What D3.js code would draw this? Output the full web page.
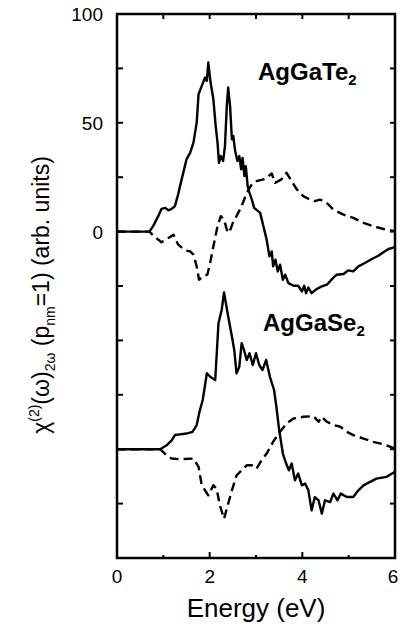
<!DOCTYPE html>
<html>
<head>
<meta charset="utf-8">
<script src="https://cdn.jsdelivr.net/npm/d3@7"></script>
<style>
  body { margin: 0; background: #fff; }
  svg { display: block; }
  text { font-family: "Liberation Sans", Arial, Helvetica, sans-serif; fill: #000; }
</style>
</head>
<body>
<svg id="chart" width="400" height="626"></svg>
<script>
// AgGaTe2 (upper panel, baseline 0)
const teSolidE = [0, 0.70, 0.78, 0.89, 0.96, 1.04, 1.11, 1.18, 1.25, 1.32, 1.36, 1.43, 1.50, 1.58, 1.65, 1.72, 1.76, 1.83, 1.90, 1.94, 1.97, 2.02, 2.08, 2.13, 2.17, 2.20, 2.24, 2.29, 2.33, 2.37, 2.40, 2.44, 2.48, 2.51, 2.55, 2.60, 2.64, 2.68, 2.71, 2.75, 2.78, 2.82, 2.86, 2.91, 2.96, 3.09, 3.16, 3.23, 3.29, 3.34, 3.37, 3.42, 3.47, 3.52, 3.58, 3.63, 3.70, 3.81, 3.91, 3.99, 4.04, 4.08, 4.13, 4.20, 4.31, 4.42, 4.53, 4.63, 4.74, 4.89, 4.99, 5.10, 5.21, 5.35, 5.50, 5.64, 5.75, 5.86, 6.0]
const teSolidV = [0, 0, 2.5, 7.1, 10.4, 10.9, 9.8, 10.4, 11.7, 17.1, 20.9, 27.0, 33.2, 36.3, 40.9, 50.1, 63.1, 67.0, 70.8, 69.3, 77.7, 68.5, 60.8, 48.5, 40.9, 31.6, 34.7, 32.4, 39.3, 57.8, 66.2, 57.8, 42.4, 43.9, 37.0, 32.4, 34.7, 28.6, 33.9, 25.5, 30.1, 20.9, 17.8, 14.7, 10.9, 8.6, 2.5, -3.7, -11.4, -9.1, -16.0, -12.9, -18.3, -15.2, -22.1, -19.8, -23.7, -24.9, -24.9, -27.5, -24.9, -28.3, -25.7, -28.3, -26.4, -25.2, -24.4, -22.1, -19.8, -19.5, -17.8, -18.3, -16.0, -14.4, -12.6, -11.1, -9.5, -8.0, -7.1]
const teDashE = [0, 0.70, 0.82, 0.96, 1.11, 1.22, 1.32, 1.47, 1.58, 1.65, 1.72, 1.77, 1.86, 1.95, 2.01, 2.08, 2.17, 2.24, 2.31, 2.37, 2.42, 2.50, 2.58, 2.69, 2.80, 2.91, 3.01, 3.16, 3.27, 3.34, 3.41, 3.55, 3.66, 3.77, 3.88, 4.02, 4.17, 4.27, 4.38, 4.49, 4.67, 4.89, 5.10, 5.32, 5.53, 5.75, 6.0]
const teDashV = [0, 0, -2.5, -4.9, -2.9, -1.4, -6.0, -8.6, -9.1, -10.6, -16.0, -22.1, -20.6, -19.8, -14.4, -6.8, 2.5, 7.1, 5.5, 0.9, -0.6, 4.0, 7.1, 11.7, 17.8, 21.7, 23.2, 24.0, 25.5, 26.7, 22.4, 24.0, 27.0, 23.2, 19.4, 16.3, 14.7, 14.0, 14.7, 14.0, 10.1, 7.8, 6.3, 4.0, 2.5, 1.2, 0.2]

// AgGaSe2 (lower panel, drawn shifted by seOffset)
const seOffset = -100
const seSolidE = [0, 0.93, 1.07, 1.18, 1.25, 1.36, 1.50, 1.63, 1.72, 1.78, 1.85, 1.94, 2.01, 2.12, 2.19, 2.26, 2.31, 2.40, 2.48, 2.53, 2.58, 2.64, 2.69, 2.74, 2.80, 2.86, 2.93, 3.00, 3.07, 3.14, 3.22, 3.30, 3.39, 3.44, 3.50, 3.58, 3.65, 3.71, 3.77, 3.84, 3.91, 3.99, 4.06, 4.13, 4.20, 4.27, 4.35, 4.42, 4.49, 4.60, 4.67, 4.76, 4.83, 4.96, 5.10, 5.21, 5.32, 5.42, 5.60, 5.82, 6.0]
const seSolidV = [0, 0, 1.8, 4.1, 6.5, 6.8, 7.2, 8.0, 11.1, 17.2, 22.6, 34.9, 33.3, 31.8, 57.9, 64.1, 72.0, 61.0, 51.8, 45.6, 34.9, 37.9, 48.7, 45.6, 41.0, 44.1, 38.7, 44.1, 38.7, 36.4, 41.0, 33.3, 27.2, 19.5, 8.8, -2.0, -6.6, -9.7, -6.6, -14.3, -11.2, -16.6, -15.8, -18.9, -28.1, -22.0, -23.5, -29.6, -23.5, -24.3, -20.4, -23.5, -20.4, -22.0, -22.0, -18.9, -16.6, -15.5, -13.5, -12.7, -10.4]
const seDashE = [0, 0.93, 1.07, 1.18, 1.36, 1.65, 1.76, 1.83, 1.97, 2.08, 2.15, 2.22, 2.31, 2.40, 2.48, 2.58, 2.69, 2.80, 2.91, 3.01, 3.12, 3.23, 3.37, 3.52, 3.66, 3.81, 4.02, 4.24, 4.35, 4.42, 4.53, 4.67, 4.82, 4.96, 5.10, 5.32, 5.53, 5.75, 6.0]
const seDashV = [0, 0, -2.8, -4.3, -4.6, -4.3, -8.1, -16.6, -21.2, -16.6, -18.1, -25.8, -32.0, -25.0, -18.9, -12.0, -9.7, -7.4, -7.4, -8.9, -5.1, -2.0, 3.4, 8.0, 11.8, 14.1, 14.9, 15.2, 12.6, 14.9, 12.6, 11.1, 10.3, 8.0, 6.5, 4.9, 3.4, 2.3, 0.3]

const xTicks = [0, 1, 2, 3, 4, 5, 6]
const xTickLabels = [0, 2, 4, 6]
const yTicks = d3.range(-150, 101, 25)
const yTickLabels = [0, 50, 100]

const svg = d3.select('#chart')
const m = { left: 117, right: 395, top: 14, bottom: 558 }

const x = d3.scaleLinear().domain([0, 6]).range([m.left, m.right])
const y = d3.scaleLinear().domain([-150, 100]).range([m.bottom, m.top])

svg.append('clipPath').attr('id', 'plot-clip')
  .append('rect')
  .attr('x', m.left).attr('y', m.top)
  .attr('width', m.right - m.left).attr('height', m.bottom - m.top)

const series = [
  { e: teSolidE, v: teSolidV, off: 0, dash: null },
  { e: teDashE, v: teDashV, off: 0, dash: '9,5' },
  { e: seSolidE, v: seSolidV, off: seOffset, dash: null },
  { e: seDashE, v: seDashV, off: seOffset, dash: '9,5' }
]

const line = d3.line()
  .x(d => x(d[0]))
  .y(d => y(d[1]))

const plot = svg.append('g').attr('clip-path', 'url(#plot-clip)')
series.forEach(s => {
  const pts = s.e.map((e, i) => [e, s.v[i] + s.off])
  plot.append('path')
    .datum(pts)
    .attr('d', line)
    .attr('fill', 'none')
    .attr('stroke', '#000')
    .attr('stroke-width', 2.4)
    .attr('stroke-linejoin', 'round')
    .attr('stroke-dasharray', s.dash)
})

// ticks (pointing inwards on all four sides)
const ticks = svg.append('g').attr('stroke', '#000').attr('stroke-width', 2)
xTicks.forEach(t => {
  const len = t % 2 === 0 ? 6 : 3
  ticks.append('line').attr('x1', x(t)).attr('x2', x(t)).attr('y1', m.bottom).attr('y2', m.bottom - len)
  ticks.append('line').attr('x1', x(t)).attr('x2', x(t)).attr('y1', m.top).attr('y2', m.top + 5)
})
yTicks.forEach(t => {
  ticks.append('line').attr('x1', m.left).attr('x2', m.left + 6).attr('y1', y(t)).attr('y2', y(t))
  ticks.append('line').attr('x1', m.right).attr('x2', m.right - 5).attr('y1', y(t)).attr('y2', y(t))
})

// frame
svg.append('rect')
  .attr('x', m.left).attr('y', m.top)
  .attr('width', m.right - m.left).attr('height', m.bottom - m.top)
  .attr('fill', 'none')
  .attr('stroke', '#000')
  .attr('stroke-width', 2.5)

// tick labels (the last one nudged left so it stays inside the page)
svg.selectAll('.xl').data(xTickLabels).enter().append('text')
  .attr('x', d => x(d) - (d === 6 ? 2 : 0)).attr('y', 583)
  .attr('text-anchor', 'middle')
  .attr('font-size', 19)
  .text(d => d)

svg.selectAll('.yl').data(yTickLabels).enter().append('text')
  .attr('x', 103).attr('y', d => y(d) + 7)
  .attr('text-anchor', 'end')
  .attr('font-size', 19)
  .text(d => d)

// axis titles
svg.append('text')
  .attr('x', 256).attr('y', 617)
  .attr('text-anchor', 'middle')
  .attr('font-size', 26)
  .text('Energy (eV)')

const yl = svg.append('text')
  .attr('transform', 'translate(49,295) rotate(-90)')
  .attr('text-anchor', 'middle')
  .attr('font-size', 23)
yl.append('tspan').text('χ')
yl.append('tspan').attr('font-size', 14).attr('dy', -10).text('(2)')
yl.append('tspan').attr('dy', 10).text('(ω)')
yl.append('tspan').attr('font-size', 14).attr('dy', 6).text('2ω')
yl.append('tspan').attr('dy', -6).text(' (p')
yl.append('tspan').attr('font-size', 14).attr('dy', 6).text('nm')
yl.append('tspan').attr('dy', -6).text('=1) (arb. units)')

// panel labels
const labels = [
  { name: 'AgGaTe', x: 258, y: 80 },
  { name: 'AgGaSe', x: 263, y: 331 }
]
labels.forEach(l => {
  const t = svg.append('text')
    .attr('x', l.x).attr('y', l.y)
    .attr('font-size', 24)
    .attr('font-weight', 'bold')
  t.append('tspan').text(l.name)
  t.append('tspan').attr('font-size', 15).attr('dy', 5).text('2')
})
</script>
</body>
</html>
